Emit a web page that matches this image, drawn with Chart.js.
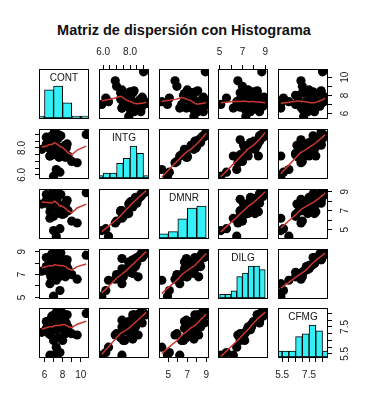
<!DOCTYPE html>
<html>
<head>
<meta charset="utf-8">
<script src="https://cdn.jsdelivr.net/npm/chart.js@4"></script>
<style>
  body { margin: 0; background: #fff; }
  #wrap { position: relative; width: 379px; height: 400px; overflow: hidden; background: #fff; }
  #title { position: absolute; left: 0; width: 368px; top: 23px; text-align: center;
           font: bold 14.5px "Liberation Sans", Arial, sans-serif; line-height: 1; color: #111; }
  canvas { position: absolute; }
</style>
</head>
<body>
<div id="wrap"><div id="title">Matriz de dispersión con Histograma</div></div>
<script>
// USJudgeRatings, first five columns
const CONT = [5.7, 6.8, 7.2, 6.8, 7.3, 6.2, 10.6, 7.0, 7.3, 8.2, 7.0, 6.5, 6.7, 7.0, 6.5, 7.3, 8.0, 7.7, 8.3, 9.6, 7.1, 7.6, 6.6, 6.2, 7.5, 7.8, 7.1, 7.5, 7.5, 7.1, 6.6, 8.4, 6.9, 7.3, 7.7, 8.5, 6.9, 6.5, 8.3, 8.3, 9.0, 7.1, 8.6];
const INTG = [7.9, 8.9, 8.1, 8.8, 6.4, 8.8, 9.0, 5.9, 8.9, 7.9, 8.0, 8.0, 8.6, 7.5, 8.1, 8.0, 7.6, 7.7, 8.2, 6.9, 8.2, 7.3, 7.4, 8.3, 8.7, 8.9, 8.5, 9.0, 8.1, 9.2, 7.4, 8.0, 8.5, 8.9, 6.2, 8.3, 8.3, 8.2, 7.3, 8.2, 7.0, 8.4, 7.4];
const DMNR = [7.7, 8.8, 7.8, 8.5, 4.3, 8.7, 8.9, 4.9, 8.9, 6.7, 7.6, 7.6, 8.2, 6.4, 8.0, 7.4, 6.6, 6.7, 7.4, 5.7, 7.7, 6.9, 6.2, 8.1, 8.5, 8.7, 8.3, 8.9, 7.7, 9.0, 6.9, 7.9, 7.8, 8.8, 5.1, 8.1, 8.0, 7.7, 7.0, 7.8, 5.9, 8.4, 7.0];
const DILG = [7.3, 8.5, 7.8, 8.8, 6.5, 8.5, 8.7, 5.1, 8.7, 8.1, 7.4, 7.2, 6.8, 6.8, 8.0, 7.7, 7.2, 7.5, 7.8, 6.6, 7.1, 6.8, 6.2, 7.7, 8.6, 8.9, 8.0, 8.7, 8.2, 9.0, 8.4, 7.9, 8.5, 8.7, 5.6, 8.3, 8.1, 7.8, 6.8, 8.3, 7.0, 7.7, 7.5];
const CFMG = [7.1, 7.8, 7.5, 8.3, 6.0, 7.9, 8.5, 5.4, 8.6, 7.9, 7.3, 7.0, 6.9, 6.5, 7.9, 7.3, 6.5, 7.4, 7.7, 6.9, 6.6, 6.7, 5.4, 7.4, 8.5, 8.7, 7.9, 8.4, 8.0, 8.4, 8.0, 7.8, 8.1, 8.4, 5.6, 8.4, 7.9, 7.6, 7.0, 8.4, 7.0, 7.5, 7.5];

const varNames = ['CONT', 'INTG', 'DMNR', 'DILG', 'CFMG'];

// histogram breaks
const contBreaks = [5, 6, 7, 8, 9, 10, 11];
const intgBreaks = [5.5, 6, 6.5, 7, 7.5, 8, 8.5, 9, 9.5];
const dmnrBreaks = [4, 5, 6, 7, 8, 9];
const dilgBreaks = [5, 5.5, 6, 6.5, 7, 7.5, 8, 8.5, 9];
const cfmgBreaks = [5, 5.5, 6, 6.5, 7, 7.5, 8, 8.5, 9];

// axis ticks and the labels R kept
const contTicks = [6, 7, 8, 9, 10];
const contTickLabels = ['6', '', '8', '', '10'];
const intgTicks = [6, 6.5, 7, 7.5, 8, 8.5, 9];
const intgTickLabels = ['6.0', '', '', '', '8.0', '', ''];
const dmnrTicks = [5, 6, 7, 8, 9];
const dmnrTickLabels = ['5', '', '7', '', '9'];
const dilgTicks = [5, 6, 7, 8, 9];
const dilgTickLabels = ['5', '', '7', '', '9'];
const cfmgTicks = [5.5, 6, 6.5, 7, 7.5, 8, 8.5];
const cfmgTickLabels = ['5.5', '', '', '', '7.5', '', ''];

const FONT = '"Liberation Sans", Arial, sans-serif';
const L = [40, 100, 160, 219, 279];   // panel left edges
const T = [70, 130, 190, 250, 309];   // panel top edges
const S = 48;      // panel size
const M = 32;      // canvas margin around panel
const A = 28;      // axis band size
const TL = 5;      // tick length
const LABEL_DIST = 18;

const vars = [
  { name: varNames[0], values: CONT, breaks: contBreaks, ticks: contTicks, labels: contTickLabels },
  { name: varNames[1], values: INTG, breaks: intgBreaks, ticks: intgTicks, labels: intgTickLabels },
  { name: varNames[2], values: DMNR, breaks: dmnrBreaks, ticks: dmnrTicks, labels: dmnrTickLabels },
  { name: varNames[3], values: DILG, breaks: dilgBreaks, ticks: dilgTicks, labels: dilgTickLabels },
  { name: varNames[4], values: CFMG, breaks: cfmgBreaks, ticks: cfmgTicks, labels: cfmgTickLabels }
];
vars.forEach(v => {
  const lo = Math.min(...v.values), hi = Math.max(...v.values);
  v.lo = lo - 0.04 * (hi - lo);
  v.hi = hi + 0.04 * (hi - lo);
});

// R's lowess (clowess)
function lowest(x, y, n, xs, nleft, nright, w, userw, rw) {
  const range = x[n - 1] - x[0];
  const h = Math.max(xs - x[nleft], x[nright] - xs);
  const h9 = 0.999 * h, h1 = 0.001 * h;
  let a = 0, j = nleft;
  while (j < n) {
    w[j] = 0;
    const r = Math.abs(x[j] - xs);
    if (r <= h9) {
      w[j] = r <= h1 ? 1 : Math.pow(1 - Math.pow(r / h, 3), 3);
      if (userw) w[j] *= rw[j];
      a += w[j];
    } else if (x[j] > xs) break;
    j++;
  }
  const nrt = j - 1;
  if (a <= 0) return null;
  for (j = nleft; j <= nrt; j++) w[j] /= a;
  if (h > 0) {
    a = 0;
    for (j = nleft; j <= nrt; j++) a += w[j] * x[j];
    let b = xs - a, c = 0;
    for (j = nleft; j <= nrt; j++) c += w[j] * (x[j] - a) * (x[j] - a);
    if (Math.sqrt(c) > 0.001 * range) {
      b /= c;
      for (j = nleft; j <= nrt; j++) w[j] *= b * (x[j] - a) + 1;
    }
  }
  let ys = 0;
  for (j = nleft; j <= nrt; j++) ys += w[j] * y[j];
  return ys;
}

function lowess(xIn, yIn, f, iter) {
  const n = xIn.length;
  const idx = xIn.map((_, i) => i).sort((a, b) => xIn[a] - xIn[b] || a - b);
  const x = idx.map(i => xIn[i]), y = idx.map(i => yIn[i]);
  const delta = 0.01 * (x[n - 1] - x[0]);
  const ys = new Array(n).fill(0), rw = new Array(n).fill(1);
  const w = new Array(n).fill(0), res = new Array(n).fill(0);
  const ns = Math.max(2, Math.min(n, Math.floor(f * n + 1e-7)));
  for (let it = 1; it <= iter + 1; it++) {
    let nleft = 0, nright = ns - 1, last = -1, i = 0;
    for (;;) {
      if (nright < n - 1) {
        const d1 = x[i] - x[nleft], d2 = x[nright + 1] - x[i];
        if (d1 > d2) { nleft++; nright++; continue; }
      }
      const fit = lowest(x, y, n, x[i], nleft, nright, w, it > 1, rw);
      ys[i] = fit === null ? y[i] : fit;
      if (last < i - 1) {
        const denom = x[i] - x[last];
        for (let j = last + 1; j < i; j++) {
          const alpha = (x[j] - x[last]) / denom;
          ys[j] = alpha * ys[i] + (1 - alpha) * ys[last];
        }
      }
      last = i;
      const cut = x[last] + delta;
      for (i = last + 1; i < n; i++) {
        if (x[i] > cut) break;
        if (x[i] === x[last]) { ys[i] = ys[last]; last = i; }
      }
      i = Math.max(last + 1, i - 1);
      if (last >= n - 1) break;
    }
    for (let k = 0; k < n; k++) res[k] = y[k] - ys[k];
    if (it > iter) break;
    const sc = res.reduce((s, r) => s + Math.abs(r), 0) / n;
    const sorted = res.map(Math.abs).sort((a, b) => a - b);
    const m1 = Math.floor(n / 2);
    const cmad = n % 2 === 0 ? 3 * (sorted[m1 - 1] + sorted[m1]) : 6 * sorted[m1];
    if (cmad < 1e-7 * sc) break;
    const c9 = 0.999 * cmad, c1 = 0.001 * cmad;
    for (let k = 0; k < n; k++) {
      const r = Math.abs(res[k]);
      rw[k] = r <= c1 ? 1 : r <= c9 ? Math.pow(1 - (r / cmad) * (r / cmad), 2) : 0;
    }
  }
  return x.map((v, k) => ({ x: v, y: ys[k] }));
}

function histBars(v) {
  const counts = v.breaks.slice(1).map(() => 0);
  v.values.forEach(val => {
    for (let k = 0; k < counts.length; k++) {
      const lo = v.breaks[k], hi = v.breaks[k + 1];
      if ((val > lo || (k === 0 && val >= lo)) && val <= hi) { counts[k]++; break; }
    }
  });
  const mx = Math.max(...counts);
  return counts.map((cnt, k) => ({ x: (v.breaks[k] + v.breaks[k + 1]) / 2, y: cnt / mx }));
}

const measureCtx = document.createElement('canvas').getContext('2d');
measureCtx.font = '10px ' + FONT;
function widest(labels) {
  return Math.max(...labels.map(s => measureCtx.measureText(s).width));
}

function axisOpts(v, horizontal, position, display) {
  const pad = horizontal ? LABEL_DIST - TL - 6 : LABEL_DIST - TL - widest(v.labels) / 2;
  return {
    type: 'linear', position, display, min: v.lo, max: v.hi, offset: false,
    afterBuildTicks: s => { s.ticks = v.ticks.map(t => ({ value: t })); },
    afterFit: s => { if (display) { if (horizontal) s.height = A; else s.width = A; } },
    grid: { display: true, offset: false, drawOnChartArea: false, drawTicks: true, tickLength: TL, color: '#000', lineWidth: 1 },
    border: { display: false },
    ticks: {
      autoSkip: false, padding: pad, color: '#222', font: { family: FONT, size: 10 },
      minRotation: horizontal ? 0 : 90, maxRotation: horizontal ? 0 : 90,
      crossAlign: horizontal ? 'near' : 'center',
      callback: (val, i) => v.labels[i]
    }
  };
}

const boxPlugin = {
  id: 'panelBox',
  afterDraw(chart) {
    const { ctx, chartArea: a } = chart;
    ctx.save();
    ctx.strokeStyle = '#000';
    ctx.lineWidth = 1;
    ctx.strokeRect(a.left - 0.5, a.top - 0.5, a.width + 1, a.height + 1);
    ctx.restore();
  }
};

function labelPlugin(text) {
  return {
    id: 'diagLabel',
    afterDatasetsDraw(chart) {
      const { ctx, chartArea: a } = chart;
      ctx.save();
      ctx.fillStyle = '#111';
      ctx.font = '10px ' + FONT;
      ctx.textAlign = 'center';
      ctx.textBaseline = 'middle';
      ctx.fillText(text, (a.left + a.right) / 2, a.top + a.height / 6);
      ctx.restore();
    }
  };
}

const wrap = document.getElementById('wrap');

for (let r = 0; r < 5; r++) {
  for (let c = 0; c < 5; c++) {
    const xv = vars[c], yv = vars[r];
    const showTop = r === 0 && c % 2 === 1;
    const showBottom = r === 4 && c % 2 === 0;
    const showLeft = c === 0 && r % 2 === 1;
    const showRight = c === 4 && r % 2 === 0;

    const canvas = document.createElement('canvas');
    canvas.width = S + 2 * M;
    canvas.height = S + 2 * M;
    canvas.style.left = (L[c] - M) + 'px';
    canvas.style.top = (T[r] - M) + 'px';
    wrap.appendChild(canvas);

    const scales = {
      x: axisOpts(xv, true, showTop ? 'top' : 'bottom', showTop || showBottom),
      y: axisOpts(yv, false, showLeft ? 'left' : 'right', showLeft || showRight)
    };
    let datasets;
    const plugins = [boxPlugin];
    if (r === c) {
      scales.yh = { type: 'linear', display: false, min: 0, max: 1.5 };
      datasets = [{
        type: 'bar', data: histBars(xv), xAxisID: 'x', yAxisID: 'yh',
        backgroundColor: '#33f0f7', borderColor: '#000', borderWidth: 1, borderSkipped: false,
        barPercentage: 1, categoryPercentage: 1, clip: 0
      }];
      plugins.push(labelPlugin(xv.name));
    } else {
      const pts = xv.values.map((val, k) => ({ x: val, y: yv.values[k] }));
      datasets = [
        { type: 'line', data: lowess(xv.values, yv.values, 2 / 3, 3), order: 0,
          borderColor: '#c9372d', borderWidth: 1.5, pointRadius: 0, fill: false, tension: 0, clip: 0 },
        { type: 'scatter', data: pts, order: 1,
          backgroundColor: '#000', borderWidth: 0, pointRadius: 4.6, clip: 0 }
      ];
    }

    new Chart(canvas, {
      type: 'scatter',
      data: { datasets },
      options: {
        responsive: false,
        animation: false,
        events: [],
        layout: {
          autoPadding: false,
          padding: {
            left: showLeft ? M - A : M,
            right: showRight ? M - A : M,
            top: showTop ? M - A : M,
            bottom: showBottom ? M - A : M
          }
        },
        scales,
        plugins: { legend: { display: false }, tooltip: { enabled: false } }
      },
      plugins
    });
  }
}
</script>
</body>
</html>
